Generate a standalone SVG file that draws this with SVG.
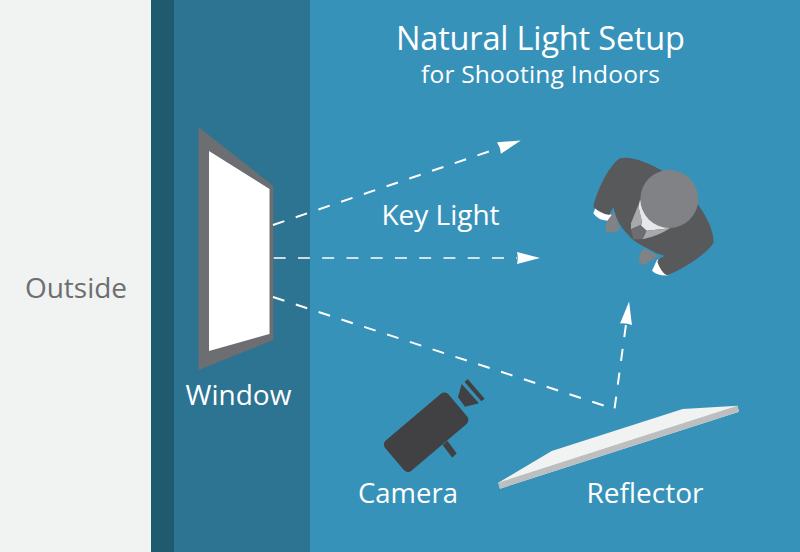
<svg xmlns="http://www.w3.org/2000/svg" width="800" height="552" viewBox="0 0 800 552">
<style>
text{font-family:"Open Sans","Noto Sans","Liberation Sans",sans-serif;text-anchor:middle}
.w{fill:#fff}
.l{fill:none;stroke:#fff;stroke-width:2;stroke-dasharray:12 12}
.t{stroke-width:1.500;stroke-dasharray:12 12.250}
.d{fill:#58595b}
.c{fill:#414042}
</style>
<defs>
<marker id="a" markerUnits="userSpaceOnUse" markerWidth="24" markerHeight="14" refX="0" refY="7" orient="auto" overflow="visible">
<path d="M0 1L23 7L0 13Q1.500 7 0 1Z" fill="#fff"/>
</marker>
</defs>
<rect width="800" height="552" fill="#3792b9"/>
<rect width="151" height="552" fill="#f1f2f2"/>
<rect x="151" width="23" height="552" fill="#1f5a6e"/>
<rect x="174" width="136" height="552" fill="#2d7493"/>
<g id="title">
<text x="540.500" y="50" font-size="32.500" fill="#fff" textLength="289">Natural Light Setup</text>
<text x="540.500" y="83" font-size="24.500" fill="#fff" textLength="239">for Shooting Indoors</text>
</g>
<g id="outside"><text x="76" y="298" font-size="28" fill="#6d6e71">Outside</text></g>
<g id="window">
<path d="M198.500 127L273.300 186V340L198.500 370Z" fill="#6d6e71"/>
<path d="M209 151L269.500 189V334L209 351Z" fill="#fff"/>
<text x="238.500" y="405" font-size="28" fill="#fff">Window</text>
</g>
<g id="connectors">
<path class="l" d="M273 225L499 148" marker-end="url(#a)"/>
<path class="l t" d="M273.700 258H517" marker-end="url(#a)"/>
<path class="l" d="M273 297L614.500 409L626 324.300" marker-end="url(#a)"/>
</g>
<g id="keylight"><text x="440.500" y="225" font-size="28" fill="#fff">Key Light</text></g>
<g id="person" transform="translate(570 150) scale(.3333)">
<path d="M108 222Q120 195 135 185L150 240Q125 252 108 245Z" fill="#808285"/>
<path d="M207 322Q212 305 222 295L265 318L220 346Q205 340 207 322Z" fill="#808285"/>
<path class="w" d="M76 175L125 195L112 212Q85 212 70 190Z"/>
<path class="w" d="M262 328L295 376Q262 378 246 362Z"/>
<path class="d" d="M70 170C82 120 115 48 150 25C180 16 240 38 290 70L385 165C410 200 430 240 431 275C425 300 340 360 290 376Q272 365 262 335Q270 322 285 318L260 310C225 290 195 280 175 255C145 225 135 195 130 170L118 195Q90 190 70 170Z"/>
<path d="M210 150L205 170L216 215L212 230L230 242L300 235Z" fill="#e6e7e8"/>
<path d="M205 165L183 220L183 238L212 225L216 215Z" fill="#a7a9ac"/>
<path d="M183 238L212 225L230 242L218 268L190 268Z" fill="#6d6e71"/>
<path d="M230 242L218 268Q265 258 300 235Z" fill="#a7a9ac"/>
<circle cx="298" cy="147" r="87" fill="#808285"/>
</g>
<g id="camera" transform="translate(370 370) scale(.3333)">
<rect x="44" y="127" width="249" height="119" rx="16" transform="rotate(-40.300 168.500 186.500)" class="c"/>
<path class="c" d="M218 225L232 212L260 250L247 263Z"/>
<path class="c" d="M275 42L327 100L285 110L264 82Z"/>
<path class="c" d="M293 27L344 86L334 94L284 36Z"/>
</g>
<text x="408" y="503" font-size="27.500" fill="#fff">Camera</text>
<g id="reflector">
<path d="M498.300 482.700L551.700 451L682.700 409L737.300 405.700L739 411.700L500 488.700Z" fill="#f1f2f2"/>
<path d="M498.300 482.700L737.300 405.700L739 411.700L500 488.700Z" fill="#bcbec0"/>
<text x="645" y="503" font-size="28" fill="#fff">Reflector</text>
</g>
</svg>
